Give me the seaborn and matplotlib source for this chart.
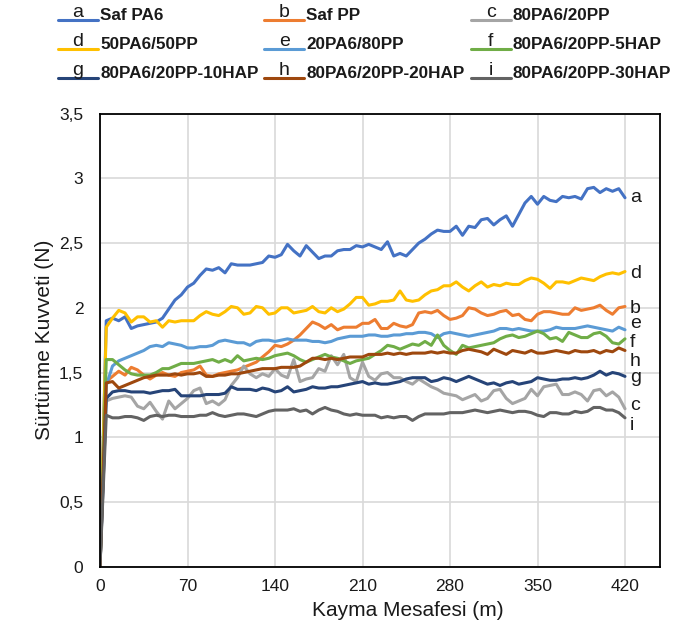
import numpy as np
import pandas as pd
import matplotlib
matplotlib.use("Agg")
import matplotlib.pyplot as plt
import seaborn as sns
from matplotlib.lines import Line2D
from matplotlib.text import Text
from matplotlib.legend_handler import HandlerLine2D

# ---------------- data ----------------
distance = list(range(0, 421, 5))

saf_pa6 = [0, 1.90, 1.92, 1.90, 1.93, 1.84, 1.86, 1.87, 1.88, 1.89,
           1.92, 1.99, 2.06, 2.10, 2.16, 2.19, 2.25, 2.30, 2.29, 2.31,
           2.27, 2.34, 2.33, 2.33, 2.33, 2.34, 2.35, 2.40, 2.39, 2.41,
           2.49, 2.44, 2.40, 2.48, 2.43, 2.38, 2.40, 2.40, 2.44, 2.45,
           2.45, 2.48, 2.47, 2.49, 2.47, 2.45, 2.51, 2.40, 2.42, 2.40,
           2.45, 2.50, 2.53, 2.57, 2.60, 2.59, 2.59, 2.63, 2.56, 2.63,
           2.62, 2.68, 2.69, 2.64, 2.68, 2.71, 2.63, 2.72, 2.81, 2.86,
           2.80, 2.86, 2.83, 2.82, 2.86, 2.85, 2.86, 2.84, 2.92, 2.93,
           2.89, 2.92, 2.90, 2.92, 2.85]

saf_pp = [0, 1.43, 1.47, 1.51, 1.48, 1.54, 1.52, 1.48, 1.45, 1.48,
          1.50, 1.48, 1.47, 1.50, 1.51, 1.52, 1.55, 1.48, 1.47, 1.49,
          1.50, 1.51, 1.52, 1.54, 1.56, 1.58, 1.62, 1.66, 1.71, 1.70,
          1.72, 1.75, 1.79, 1.84, 1.89, 1.87, 1.84, 1.87, 1.83, 1.85,
          1.85, 1.85, 1.88, 1.88, 1.91, 1.84, 1.84, 1.88, 1.86, 1.85,
          1.87, 1.96, 1.97, 1.96, 1.98, 1.94, 1.91, 1.92, 1.94, 2.00,
          1.99, 1.96, 1.94, 1.95, 1.97, 1.98, 1.94, 1.95, 1.91, 1.90,
          1.95, 1.97, 1.97, 1.96, 1.95, 1.95, 2.00, 1.98, 1.99, 2.00,
          2.02, 1.98, 1.95, 2.00, 2.01]

pa6_80_pp_20 = [0, 1.28, 1.30, 1.31, 1.32, 1.31, 1.24, 1.22, 1.27, 1.20,
                1.14, 1.28, 1.22, 1.26, 1.30, 1.36, 1.38, 1.26, 1.28, 1.25,
                1.29, 1.40, 1.46, 1.55, 1.49, 1.46, 1.49, 1.47, 1.53, 1.48,
                1.46, 1.60, 1.43, 1.45, 1.46, 1.53, 1.51, 1.63, 1.56, 1.64,
                1.46, 1.43, 1.58, 1.47, 1.44, 1.49, 1.50, 1.46, 1.46, 1.43,
                1.41, 1.45, 1.42, 1.39, 1.37, 1.34, 1.33, 1.32, 1.29, 1.31,
                1.33, 1.28, 1.30, 1.36, 1.37, 1.30, 1.26, 1.28, 1.30, 1.37,
                1.32, 1.39, 1.40, 1.41, 1.33, 1.33, 1.35, 1.33, 1.28, 1.36,
                1.37, 1.32, 1.35, 1.31, 1.22]

pa6_50_pp_50 = [0, 1.85, 1.92, 1.98, 1.96, 1.89, 1.93, 1.93, 1.89, 1.90,
                1.85, 1.90, 1.89, 1.90, 1.90, 1.90, 1.94, 1.97, 1.95, 1.94,
                1.97, 2.01, 2.00, 1.95, 1.96, 2.01, 2.00, 1.95, 1.96, 2.00,
                2.00, 1.96, 1.97, 1.98, 2.01, 1.97, 1.96, 2.00, 1.97, 1.99,
                2.03, 2.08, 2.08, 2.02, 2.03, 2.05, 2.05, 2.06, 2.13, 2.06,
                2.05, 2.06, 2.10, 2.13, 2.14, 2.17, 2.17, 2.20, 2.16, 2.13,
                2.17, 2.20, 2.16, 2.18, 2.17, 2.19, 2.18, 2.18, 2.21, 2.23,
                2.22, 2.19, 2.15, 2.20, 2.20, 2.19, 2.21, 2.23, 2.22, 2.21,
                2.24, 2.26, 2.27, 2.26, 2.28]

pa6_20_pp_80 = [0, 1.40, 1.55, 1.59, 1.61, 1.63, 1.65, 1.67, 1.70, 1.71,
                1.70, 1.73, 1.72, 1.71, 1.69, 1.69, 1.70, 1.70, 1.71, 1.74,
                1.75, 1.74, 1.73, 1.73, 1.71, 1.74, 1.75, 1.75, 1.74, 1.75,
                1.76, 1.75, 1.75, 1.75, 1.74, 1.74, 1.73, 1.74, 1.76, 1.77,
                1.78, 1.78, 1.78, 1.79, 1.79, 1.78, 1.78, 1.79, 1.79, 1.80,
                1.80, 1.81, 1.81, 1.80, 1.77, 1.80, 1.81, 1.80, 1.79, 1.78,
                1.79, 1.80, 1.81, 1.82, 1.84, 1.84, 1.83, 1.84, 1.83, 1.82,
                1.82, 1.82, 1.83, 1.85, 1.84, 1.84, 1.84, 1.85, 1.86, 1.85,
                1.84, 1.83, 1.82, 1.85, 1.83]

hap_5 = [0, 1.60, 1.60, 1.56, 1.52, 1.49, 1.48, 1.48, 1.48, 1.50,
         1.53, 1.53, 1.55, 1.57, 1.57, 1.57, 1.58, 1.59, 1.60, 1.58,
         1.60, 1.58, 1.63, 1.59, 1.60, 1.61, 1.60, 1.61, 1.63, 1.64,
         1.65, 1.63, 1.60, 1.58, 1.60, 1.62, 1.64, 1.62, 1.61, 1.59,
         1.57, 1.59, 1.60, 1.61, 1.64, 1.67, 1.71, 1.70, 1.68, 1.70,
         1.72, 1.71, 1.74, 1.71, 1.79, 1.71, 1.67, 1.64, 1.71, 1.69,
         1.70, 1.71, 1.72, 1.73, 1.76, 1.78, 1.79, 1.77, 1.78, 1.80,
         1.82, 1.80, 1.76, 1.77, 1.74, 1.81, 1.79, 1.77, 1.77, 1.80,
         1.81, 1.78, 1.73, 1.72, 1.76]

hap_10 = [0, 1.30, 1.35, 1.36, 1.36, 1.35, 1.35, 1.35, 1.34, 1.35,
          1.36, 1.36, 1.37, 1.32, 1.32, 1.32, 1.32, 1.33, 1.33, 1.33,
          1.34, 1.39, 1.37, 1.37, 1.37, 1.36, 1.38, 1.37, 1.35, 1.36,
          1.39, 1.35, 1.36, 1.37, 1.39, 1.38, 1.38, 1.39, 1.39, 1.40,
          1.41, 1.42, 1.43, 1.41, 1.42, 1.41, 1.41, 1.42, 1.43, 1.45,
          1.46, 1.46, 1.46, 1.43, 1.44, 1.46, 1.45, 1.43, 1.45, 1.47,
          1.45, 1.43, 1.41, 1.42, 1.40, 1.42, 1.43, 1.41, 1.42, 1.43,
          1.46, 1.45, 1.44, 1.44, 1.45, 1.45, 1.46, 1.45, 1.46, 1.48,
          1.51, 1.48, 1.50, 1.49, 1.47]

hap_20 = [0, 1.42, 1.43, 1.38, 1.40, 1.42, 1.44, 1.46, 1.47, 1.48,
          1.48, 1.48, 1.49, 1.48, 1.49, 1.49, 1.50, 1.47, 1.47, 1.48,
          1.48, 1.49, 1.49, 1.50, 1.51, 1.52, 1.53, 1.53, 1.53, 1.54,
          1.54, 1.54, 1.55, 1.58, 1.61, 1.61, 1.60, 1.61, 1.60, 1.61,
          1.62, 1.62, 1.62, 1.64, 1.64, 1.64, 1.65, 1.64, 1.65, 1.64,
          1.65, 1.65, 1.65, 1.66, 1.65, 1.66, 1.65, 1.65, 1.67, 1.68,
          1.67, 1.66, 1.64, 1.68, 1.66, 1.64, 1.67, 1.66, 1.65, 1.67,
          1.65, 1.65, 1.66, 1.67, 1.66, 1.65, 1.67, 1.66, 1.66, 1.67,
          1.65, 1.67, 1.66, 1.69, 1.67]

hap_30 = [0, 1.17, 1.15, 1.15, 1.16, 1.16, 1.15, 1.13, 1.16, 1.17,
          1.16, 1.17, 1.17, 1.16, 1.16, 1.16, 1.17, 1.17, 1.19, 1.17,
          1.16, 1.17, 1.18, 1.18, 1.17, 1.16, 1.18, 1.20, 1.21, 1.21,
          1.21, 1.22, 1.20, 1.21, 1.18, 1.21, 1.23, 1.21, 1.20, 1.18,
          1.17, 1.18, 1.17, 1.17, 1.17, 1.15, 1.16, 1.15, 1.16, 1.16,
          1.13, 1.16, 1.18, 1.18, 1.18, 1.18, 1.19, 1.19, 1.19, 1.20,
          1.21, 1.20, 1.19, 1.20, 1.21, 1.20, 1.19, 1.20, 1.20, 1.19,
          1.17, 1.16, 1.19, 1.19, 1.18, 1.18, 1.20, 1.19, 1.20, 1.23,
          1.23, 1.21, 1.21, 1.19, 1.15]

series_names = ["Saf PA6", "Saf PP", "80PA6/20PP", "50PA6/50PP", "20PA6/80PP",
                "80PA6/20PP-5HAP", "80PA6/20PP-10HAP", "80PA6/20PP-20HAP",
                "80PA6/20PP-30HAP"]
series_letters = ["a", "b", "c", "d", "e", "f", "g", "h", "i"]
series_values = [saf_pa6, saf_pp, pa6_80_pp_20, pa6_50_pp_50, pa6_20_pp_80,
                 hap_5, hap_10, hap_20, hap_30]
series_colors = ["#4472C4", "#ED7D31", "#A5A5A5", "#FFC000", "#5B9BD5",
                 "#70AD47", "#264478", "#9E480E", "#636363"]
# baseline of the letter written at the right end of each curve (a..i)
end_letter_y = [2.82, 1.96, 1.21, 2.23, 1.84, 1.70, 1.43, 1.55, 1.055]

x_ticks = [0, 70, 140, 210, 280, 350, 420]
y_ticks = [0, 0.5, 1, 1.5, 2, 2.5, 3, 3.5]

for v in series_values:
    assert len(v) == len(distance)

rows = []
for name, vals in zip(series_names, series_values):
    for xv, yv in zip(distance, vals):
        rows.append({"distance": xv, "force": yv, "series": name})
df = pd.DataFrame(rows)

# ---------------- style ----------------
sns.set_theme(style="white")
plt.rcParams["font.family"] = ["Liberation Sans", "DejaVu Sans"]
TXT = "#1a1a1a"

fig = plt.figure(figsize=(6.75, 6.36), dpi=100)
ax = fig.add_axes([100 / 675, 1 - 566.7 / 636, 560 / 675, 453.1 / 636])

sns.lineplot(data=df, x="distance", y="force", hue="series",
             hue_order=series_names,
             palette=dict(zip(series_names, series_colors)),
             estimator=None, sort=True, linewidth=2.2, legend=False, ax=ax)

ax.set_xlim(0, 448)
ax.set_ylim(0, 3.5)
ax.set_xticks(x_ticks)
ax.set_yticks(y_ticks)
ax.set_xticklabels([str(t) for t in x_ticks])
ax.set_yticklabels([f"{t:g}".replace(".", ",") for t in y_ticks])
ax.tick_params(axis="both", length=0, labelsize=12.5, colors=TXT)
ax.tick_params(axis="x", pad=9)
ax.tick_params(axis="y", pad=12)
ax.grid(True, color="#D9D9D9", linewidth=1.2)
ax.set_axisbelow(True)
for sp in ax.spines.values():
    sp.set_visible(True)
    sp.set_color("#000000")
    sp.set_linewidth(1.3)

ax.set_xlabel("Kayma Mesafesi (m)", fontsize=15, color=TXT)
ax.set_ylabel("Sürtünme Kuvveti (N)", fontsize=15, color=TXT)
ax.xaxis.set_label_coords(0.55, -0.075)
ax.yaxis.set_label_coords(-0.083, 0.5)

for letter, yb in zip(series_letters, end_letter_y):
    ax.text(424, yb, letter, fontsize=14, ha="left", va="baseline",
            color=TXT, clip_on=False)


# ---------------- legend ----------------
class LetterHandler(HandlerLine2D):
    def __init__(self, letter, **kw):
        super().__init__(**kw)
        self.letter = letter

    def create_artists(self, legend, orig_handle, xdescent, ydescent,
                       width, height, fontsize, trans):
        arts = super().create_artists(legend, orig_handle, xdescent, ydescent,
                                      width, height, fontsize, trans)
        for a in arts:
            if isinstance(a, Line2D):
                a.set_ydata([-0.6] * len(a.get_ydata()))
        t = Text(width / 2 - xdescent, 1.9, self.letter, ha="center",
                 va="baseline", fontsize=14, color=TXT, transform=trans)
        return list(arts) + [t]


order = [0, 3, 6, 1, 4, 7, 2, 5, 8]
handles, labels, hmap = [], [], {}
for i in order:
    h = Line2D([], [], color=series_colors[i], linewidth=2.2)
    handles.append(h)
    labels.append(series_names[i])
    hmap[h] = LetterHandler(series_letters[i])

leg = fig.legend(handles, labels, handler_map=hmap, loc="upper left",
                 bbox_to_anchor=(58 / 675, 1 - 7.5 / 636), ncol=3,
                 frameon=False, borderpad=0, borderaxespad=0,
                 handlelength=2.34, handletextpad=0.12, columnspacing=0.35,
                 labelspacing=0.82,
                 prop={"weight": "bold", "size": 12.3})
for t in leg.get_texts():
    t.set_color(TXT)

fig.savefig("out.png", dpi=100)
